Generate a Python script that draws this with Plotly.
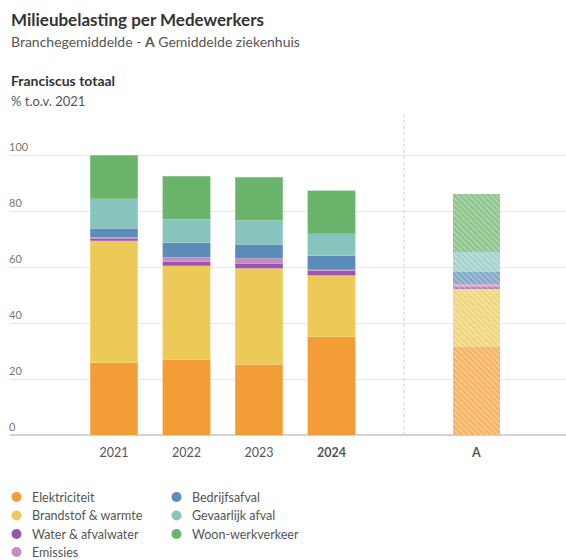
import plotly.graph_objects as go

years = ["2021", "2022", "2023", "2024"]
year_labels = ["2021", "2022", "2023", "<b>2024</b>"]
bench_label = "<b>A</b>"

series = ["Elektriciteit", "Brandstof & warmte", "Water & afvalwater", "Emissies",
          "Bedrijfsafval", "Gevaarlijk afval", "Woon-werkverkeer"]
colors = ["#F39D36", "#EDCA58", "#9B55B0", "#C48DBF", "#5B8DB8", "#88C4BE", "#6AB46B"]

elektriciteit = [25.8, 26.8, 25.2, 35.1]
brandstof = [43.6, 33.6, 34.3, 22.0]
water = [0.8, 1.4, 1.8, 1.5]
emissies = [0.4, 1.7, 1.8, 0.4]
bedrijfsafval = [3.2, 5.2, 5.1, 5.0]
gevaarlijk = [10.5, 8.4, 8.5, 7.9]
woonwerk = [15.7, 15.4, 15.3, 15.4]

benchmark_A = [31.5, 20.5, 1.2, 0.6, 4.3, 7.4, 20.5]

values = [elektriciteit, brandstof, water, emissies, bedrijfsafval, gevaarlijk, woonwerk]

yticks = [0, 20, 40, 60, 80, 100]

x_years = [0, 1, 2, 3]
x_sep = 4
x_bench = 5


def lighten(hexc, f):
    h = hexc.lstrip("#")
    r, g, b = int(h[0:2], 16), int(h[2:4], 16), int(h[4:6], 16)
    r = int(r + (255 - r) * f)
    g = int(g + (255 - g) * f)
    b = int(b + (255 - b) * f)
    return f"rgb({r},{g},{b})"


FONT = "Lato"
fig = go.Figure()

for name, col, vals, bval in zip(series, colors, values, benchmark_A):
    fig.add_trace(go.Bar(
        x=x_years, y=vals, name=name, marker=dict(color=col, line=dict(width=0.6, color=lighten(col, 0.35))),
        width=0.66, showlegend=False, hoverinfo="y+name"))
    fig.add_trace(go.Bar(
        x=[x_bench], y=[bval], name=name,
        marker=dict(color=lighten(col, 0.45), line=dict(width=0),
                    pattern=dict(shape="\\", fgcolor=col, size=4, solidity=0.55, fillmode="overlay")),
        width=0.66, showlegend=False, hoverinfo="y+name"))

H_TOP, H_BOT = 113, 435
PH = H_BOT - H_TOP


def py(ypx):
    return (H_BOT - ypx) / PH


annotations = [
    dict(text="<b>Milieubelasting per Medewerkers</b>", x=0, y=py(20), font=dict(size=17, color="#333")),
    dict(text="Branchegemiddelde - <b>A</b> Gemiddelde ziekenhuis", x=0, y=py(42), font=dict(size=14, color="#555")),
    dict(text="<b>Franciscus totaal</b>", x=0, y=py(80), font=dict(size=14, color="#333")),
    dict(text="% t.o.v. 2021", x=0, y=py(101), font=dict(size=13, color="#555")),
]
for a in annotations:
    a.update(xref="paper", yref="paper", xanchor="left", yanchor="middle", showarrow=False, xshift=-1)

shapes = [dict(type="line", xref="x", yref="paper", x0=x_sep, x1=x_sep, y0=0, y1=1,
               line=dict(color="#cccccc", width=1, dash="dot"))]

# manual legend
col_x = [0.0, 160.0]
row_y = [497, 515.5, 534, 552]
legend_slots = [(0, 0), (0, 1), (0, 2), (0, 3), (1, 0), (1, 1), (1, 2)]
PW = 556
for name, col, (c, r) in zip(series, colors, legend_slots):
    xp = (col_x[c] + 6.5) / PW
    ypp = py(row_y[r])
    shapes.append(dict(type="circle", xref="paper", yref="paper", xsizemode="pixel", ysizemode="pixel",
                       xanchor=xp, yanchor=ypp, x0=-5, x1=5, y0=-5, y1=5,
                       fillcolor=col, line=dict(width=0)))
    annotations.append(dict(text=name, xref="paper", yref="paper", x=(col_x[c] + 19.5) / PW, y=ypp,
                            xanchor="left", yanchor="middle", showarrow=False,
                            font=dict(size=12.5, color="#555")))

fig.update_layout(
    width=566, height=560,
    margin=dict(l=10, r=0, t=H_TOP, b=560 - H_BOT),
    barmode="stack",
    plot_bgcolor="white", paper_bgcolor="white",
    font=dict(family=FONT, color="#555"),
    showlegend=False,
    annotations=annotations,
    shapes=shapes,
    xaxis=dict(range=[-1.434, 6.235], tickvals=x_years + [x_bench], ticktext=year_labels + [bench_label],
               showgrid=False, zeroline=False, showline=False, ticks="", ticklabelstandoff=8,
               tickfont=dict(size=12.5, color="#555"), fixedrange=True),
    yaxis=dict(range=[0, 115], tickvals=yticks, ticktext=[str(v) for v in yticks],
               ticklabelposition="inside top", ticklabelstandoff=-4, showgrid=True, gridcolor="#e8e8e8", gridwidth=1,
               zeroline=True, zerolinecolor="#d2d2d2", zerolinewidth=1.5, ticks="",
               tickfont=dict(size=11, color="#777"), fixedrange=True),
)

fig.write_html("out.html")
